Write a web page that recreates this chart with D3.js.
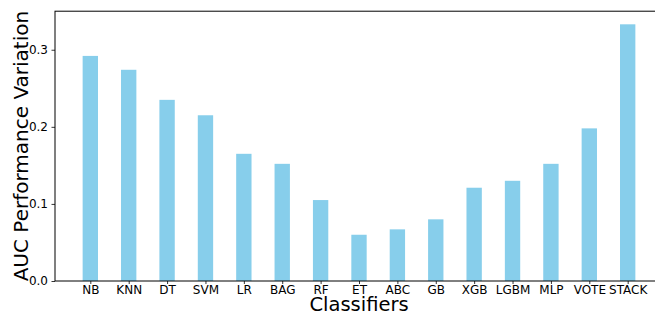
<!DOCTYPE html>
<html>
<head>
<meta charset="utf-8">
<title>AUC Performance Variation</title>
<script src="https://d3js.org/d3.v7.min.js"></script>
<style>
  body { margin: 0; background: #ffffff; }
  svg { display: block; font-family: "DejaVu Sans", sans-serif; }
</style>
</head>
<body>
<svg id="chart" width="655" height="313"></svg>
<script>
// values
const classifiers = ["NB", "KNN", "DT", "SVM", "LR", "BAG", "RF", "ET", "ABC", "GB", "XGB", "LGBM", "MLP", "VOTE", "STACK"];
const aucVariation = [0.292, 0.274, 0.235, 0.215, 0.165, 0.152, 0.105, 0.060, 0.067, 0.080, 0.121, 0.130, 0.152, 0.198, 0.333];
const yTicks = [0.0, 0.1, 0.2, 0.3];

const svg = d3.select("#chart");
const plotLeft = 55, plotRight = 663, plotTop = 11.2, plotBottom = 281;

// matplotlib-like x limits: bars at 0..14, width 0.4, 5% margins
let x = d3.scalePoint()
    .domain(classifiers)
    .range([plotLeft, plotRight])
    .padding(0.92);
const barW = x.step() * 0.4;

let y = d3.scaleLinear()
    .domain([0, 0.35])
    .range([plotBottom, plotTop]);

svg.selectAll("rect.bar")
    .data(classifiers)
    .enter()
    .append("rect")
    .attr("class", "bar")
    .attr("x", d => x(d) - barW / 2)
    .attr("width", barW)
    .attr("y", (d, i) => y(aucVariation[i]))
    .attr("height", (d, i) => plotBottom - y(aucVariation[i]))
    .attr("fill", "#87ceeb");

// axes
let xAxis = svg.append("g")
    .attr("transform", `translate(0,${plotBottom})`)
    .call(d3.axisBottom(x).tickSize(3).tickPadding(1.2).tickSizeOuter(0));

let yAxis = svg.append("g")
    .attr("transform", `translate(${plotLeft},0)`)
    .call(d3.axisLeft(y).tickValues(yTicks).tickFormat(d3.format(".1f"))
        .tickSize(3.5).tickPadding(3.5).tickSizeOuter(0));

[xAxis, yAxis].forEach(g => {
    g.select(".domain").remove();
    g.selectAll("line").attr("stroke", "#000").attr("stroke-width", 0.8);
    g.selectAll("text").attr("fill", "#000")
        .style("font-family", "'DejaVu Sans', sans-serif")
        .style("font-size", "12px");
});

// frame
svg.append("rect")
    .attr("x", plotLeft)
    .attr("y", plotTop)
    .attr("width", plotRight - plotLeft)
    .attr("height", plotBottom - plotTop)
    .attr("fill", "none")
    .attr("stroke", "#000")
    .attr("stroke-width", 1);

// labels
svg.append("text")
    .attr("x", (plotLeft + plotRight) / 2)
    .attr("y", 310.5)
    .attr("text-anchor", "middle")
    .style("font-size", "19.5px")
    .text("Classifiers");

svg.append("text")
    .attr("transform", `translate(28,${(plotTop + plotBottom) / 2}) rotate(-90)`)
    .attr("text-anchor", "middle")
    .style("font-size", "20px")
    .text("AUC Performance Variation");
</script>
</body>
</html>
